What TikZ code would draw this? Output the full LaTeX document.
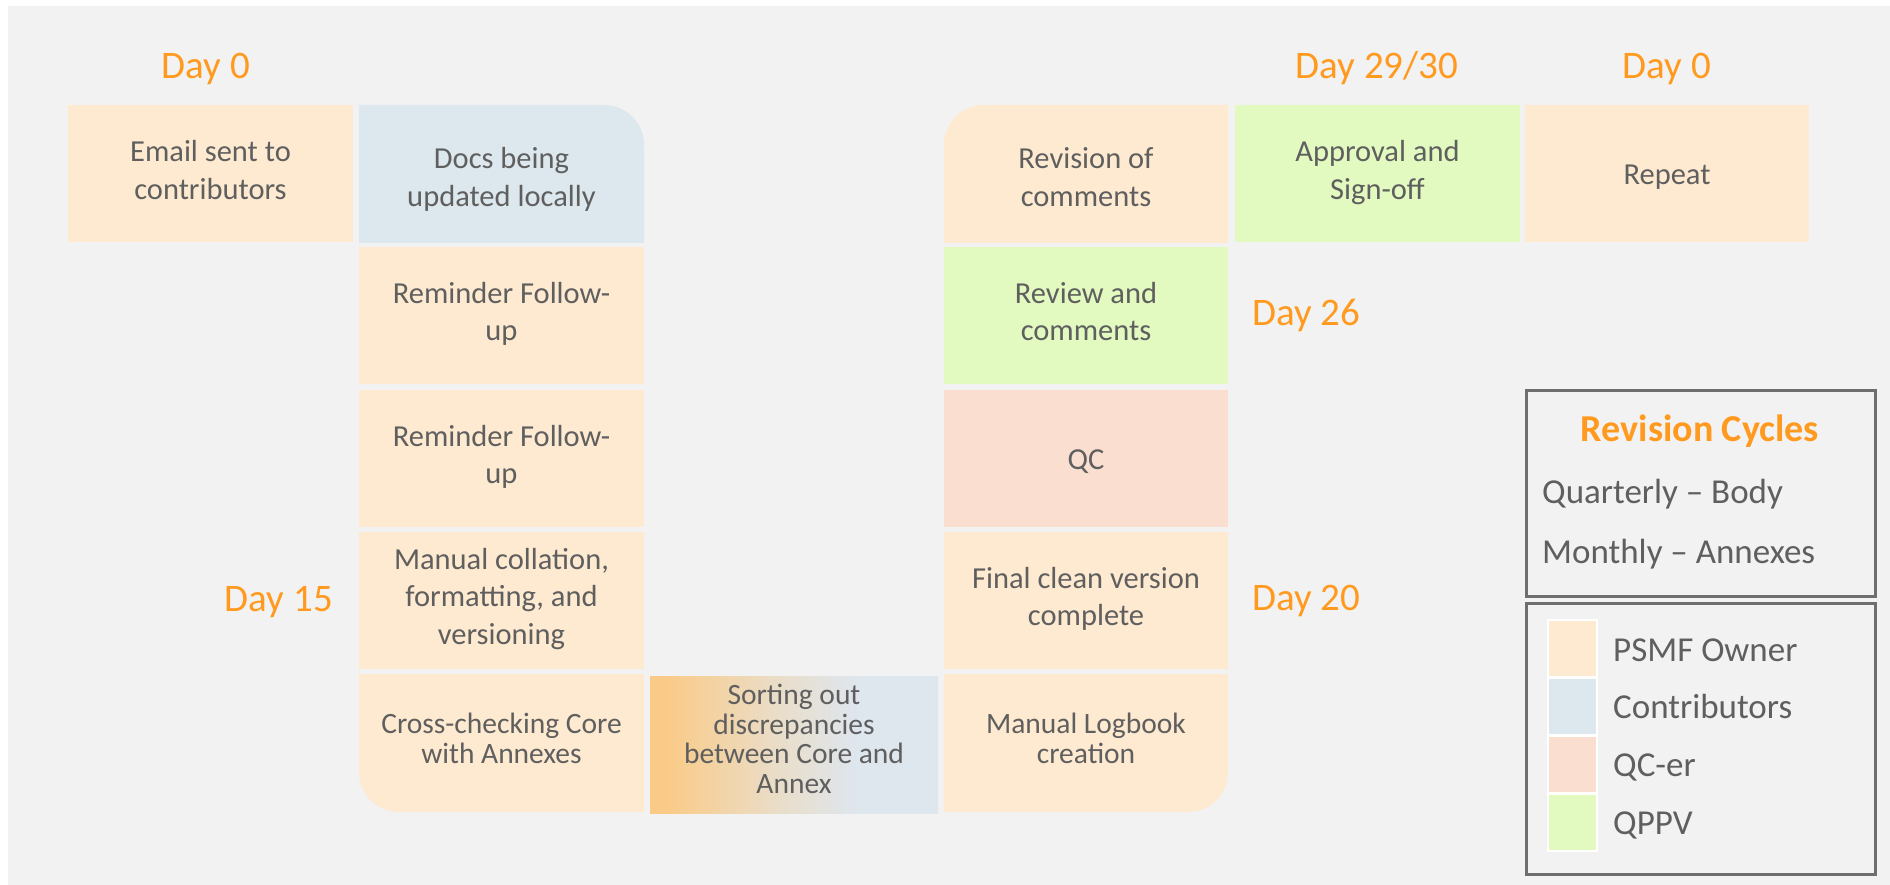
\documentclass[tikz,border=0pt]{standalone}
\usepackage{fontspec}
\setmainfont{Carlito}
\definecolor{bgc}{HTML}{F2F2F2}
\definecolor{peach}{HTML}{FEEAD0}
\definecolor{bluec}{HTML}{DDE7EE}
\definecolor{salmon}{HTML}{FADFD0}
\definecolor{greenc}{HTML}{E2F9C0}
\definecolor{txtc}{HTML}{5F5F5F}
\definecolor{orangec}{HTML}{FF9A1F}
\definecolor{legline}{HTML}{6E6E6E}
\definecolor{sortL}{HTML}{FACB88}
\definecolor{sortM}{HTML}{E9DECB}
\definecolor{sortR}{HTML}{DEE6EE}
\pgfdeclarehorizontalshading{sortshade}{100bp}{color(0bp)=(sortL); color(25bp)=(sortL); color(28bp)=(sortL); color(48bp)=(sortM); color(61bp)=(sortR); color(100bp)=(sortR)}
\newcommand\linestrut{\rule[-0.22\baselineskip]{0pt}{\baselineskip}}
\tikzset{
  box/.style={minimum width=285pt, minimum height=137pt, inner sep=0pt, align=center, text=txtc, font=\fontsize{30.5}{37.5}\selectfont, execute at begin node=\linestrut, execute at end node=\linestrut},
  boxs/.style={box, font=\fontsize{29.5}{29.5}\selectfont},
  txtonly/.style={box, minimum width=0pt, minimum height=0pt},
  day/.style={text=orangec, font=\fontsize{39}{44}\selectfont, inner sep=0pt},
  leg/.style={text=txtc, font=\fontsize{35}{40}\selectfont, inner sep=0pt, anchor=base west},
  legbox/.style={draw=legline, line width=2.5pt, inner sep=0pt, anchor=north west},
  swatch/.style={draw=white, line width=2pt, minimum width=49pt, minimum height=57pt, inner sep=0pt},
}
\begin{document}
\begin{tikzpicture}[x=1pt,y=-1pt]
\useasboundingbox (0,0) rectangle (1890,885);
\fill[white] (0,0) rectangle (1890,885);
\fill[bgc] (8,6) rectangle (1890,885);

% day labels
\node[day, anchor=base] (d0a) at (206,79) {Day 0};
\node[day, anchor=base] (d29) at (1377,79) {Day 29/30};
\node[day, anchor=base] (d0b) at (1667,79) {Day 0};
\node[day, anchor=base west] (d26) at (1252,325) {Day 26};
\node[day, anchor=base west] (d20) at (1252,610) {Day 20};
\node[day, anchor=base east] (d15) at (333,611) {Day 15};

% rounded-corner fills
\fill[bluec] (359,243) -- (359,105) -- (604,105) arc[start angle=90,end angle=0,radius=40pt] -- (644,243) -- cycle;
\fill[peach] (1228,243) -- (1228,105) -- (984,105) arc[start angle=90,end angle=180,radius=40pt] -- (944,243) -- cycle;
\fill[peach] (359,674) -- (644,674) -- (644,812) -- (399,812) arc[start angle=270,end angle=180,radius=40pt] -- cycle;
\fill[peach] (1228,674) -- (1228,772) arc[start angle=0,end angle=-90,radius=40pt] -- (944,812) -- (944,674) -- cycle;
\shade[shading=sortshade] (650,676) rectangle (938,813);

% boxes
\node[box, fill=peach] (email) at (210.5,174) {Email sent to\\contributors};
\node[txtonly] (docs) at (501.5,181) {Docs being\\updated locally};
\node[box, fill=peach] (rem1) at (501.5,315.5) {Reminder Follow-\\up};
\node[box, fill=peach] (rem2) at (501.5,458.5) {Reminder Follow-\\up};
\node[box, fill=peach] (coll) at (501.5,600.5) {Manual collation,\\formatting, and\\versioning};
\node[boxs, minimum width=0pt, minimum height=0pt] (cross) at (501.5,741.5) {Cross-checking Core\\with Annexes};
\node[boxs, minimum width=0pt, minimum height=0pt] (sort) at (794,742) {Sorting out\\discrepancies\\between Core and\\Annex};
\node[boxs, minimum width=0pt, minimum height=0pt] (logb) at (1086,741.5) {Manual Logbook\\creation};
\node[box, fill=peach, minimum width=284pt] (final) at (1086,600.5) {Final clean version\\complete};
\node[box, fill=salmon, minimum width=284pt] (qc) at (1086,458.5) {QC};
\node[box, fill=greenc, minimum width=284pt] (review) at (1086,315.5) {Review and\\comments};
\node[txtonly] (revis) at (1086,181) {Revision of\\comments};
\node[box, fill=greenc, minimum width=285pt] (appr) at (1377.5,174) {Approval and\\Sign-off};
\node[box, fill=peach, minimum width=284pt] (rep) at (1667,174) {Repeat};

% legend
\node[legbox, minimum width=349pt, minimum height=206pt] (leg1) at (1525,389) {};
\node[text=orangec, font=\fontsize{38}{44}\selectfont\bfseries, inner sep=0pt, anchor=base] (legt) at (1700,441) {Revision Cycles};
\node[leg] (quart) at (1542,503) {Quarterly -- Body};
\node[leg] (month) at (1542,563) {Monthly -- Annexes};
\node[legbox, minimum width=349pt, minimum height=271pt] (leg2) at (1525,602) {};
\node[swatch, fill=peach] (sw1) at (1572.5,648.5) {};
\node[swatch, fill=bluec] (sw2) at (1572.5,706) {};
\node[swatch, fill=salmon] (sw3) at (1572.5,764) {};
\node[swatch, fill=greenc] (sw4) at (1572.5,822) {};
\node[leg] (l1) at (1613,661) {PSMF Owner};
\node[leg] (l2) at (1613,718) {Contributors};
\node[leg] (l3) at (1613,776) {QC-er};
\node[leg] (l4) at (1613,834) {QPPV};
\end{tikzpicture}
\end{document}
